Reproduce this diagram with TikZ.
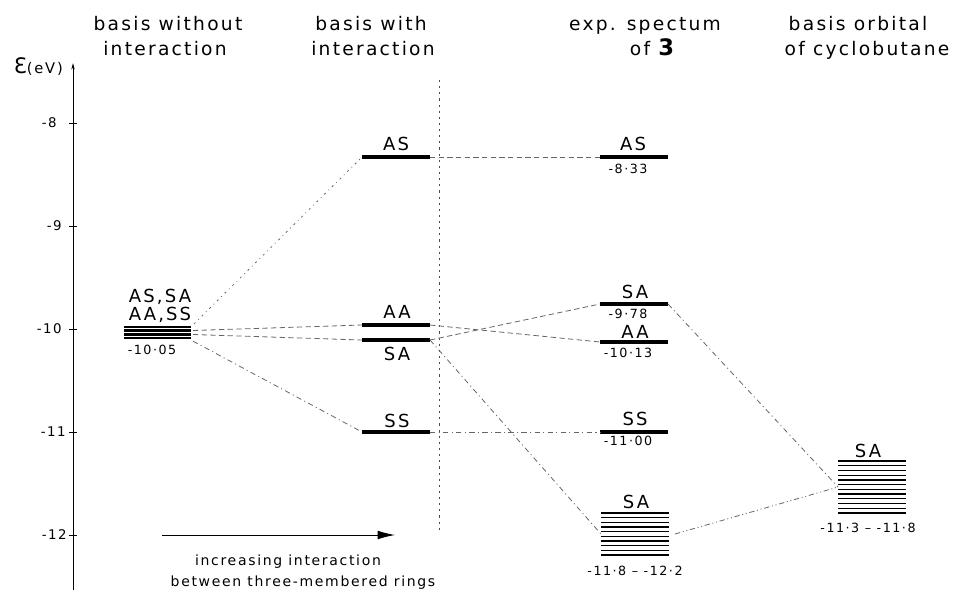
\documentclass[tikz,border=0pt]{standalone}
\usepackage{fontspec}
\setmainfont{DejaVu Sans}[LetterSpace=12]
\usetikzlibrary{arrows.meta,calc}

% horizontal rules filling a band node from top to bottom
\newcommand\bandlines[2]{%
  \foreach \k in {0,...,#2}{%
    \pgfmathsetmacro\f{\k/#2}%
    \pgfmathsetmacro\lw{(\k==0 || \k==#2) ? 1.8 : 1.0}%
    \draw[line width=\lw pt] ($(#1.north west)!\f!(#1.south west)$) -- ($(#1.north east)!\f!(#1.south east)$);
  }%
}

\tikzset{
  lvl/.style={fill=black, inner sep=0pt, outer sep=0pt, minimum width=51pt, minimum height=2.5pt},
  band/.style={inner sep=0pt, outer sep=0pt, minimum width=51pt},
  lab/.style={font=\fontsize{13.5}{15}\selectfont, anchor=base, inner sep=0pt},
  val/.style={font=\fontsize{9.5}{10}\selectfont, anchor=base, inner sep=0pt},
  hdr/.style={font=\fontsize{14}{16}\selectfont, anchor=base, inner sep=0pt},
  tick/.style={font=\fontsize{10}{11}\selectfont, anchor=east, inner sep=0pt},
  note/.style={font=\fontsize{10.5}{12}\selectfont, anchor=base, inner sep=0pt},
  link/.style={line width=0.6pt, black!60},
  dashlink/.style={link, dash pattern=on 4pt off 2.5pt},
  dotlink/.style={link, dash pattern=on 1.5pt off 3pt on 0.6pt off 3pt},
  dashdotlink/.style={link, dash pattern=on 4pt off 2.5pt on 0.8pt off 2.5pt},
  dashdotdotlink/.style={link, dash pattern=on 4pt off 2pt on 0.8pt off 2pt on 0.8pt off 2pt},
}

\begin{document}
\begin{tikzpicture}[x=0.75pt, y=-0.75pt]
\useasboundingbox (0,0) rectangle (956,590);

% column headings
\node[hdr] (hA1) at (168,30) {basis without};
\node[hdr] (hA2) at (165,55) {interaction};
\node[hdr] (hB1) at (371,30) {basis with};
\node[hdr] (hB2) at (373,55) {interaction};
\node[hdr] (hC1) at (645,30) {exp. spectum};
\node[hdr] (hC2) at (652,55) {of {\fontsize{17}{18}\selectfont\bfseries 3}};
\node[hdr] (hD1) at (858,30) {basis orbital};
\node[hdr] (hD2) at (867,55) {of cyclobutane};

% energy axis
\coordinate (axbot) at (73,590);
\coordinate (axtop) at (73,63);
\draw[line width=0.6pt, -{Stealth[length=5pt,width=2.5pt]}] (axbot) -- (axtop);
\node[anchor=base east, inner sep=0pt] (axlab) at (63,73)
  {{\fontsize{16}{17}\selectfont Ɛ}{\fontsize{11}{12}\selectfont(eV)}};
\foreach \e/\y/\xr in {8/123/57, 9/226/62, 10/329/62, 11/432/66, 12/535/67}{
  \draw[line width=0.6pt] (69,\y) -- (77,\y);
  \node[tick] (t\e) at (\xr,\y) {-\e};
}

% basis without interaction: four degenerate levels
\node[band, minimum width=50.25pt, minimum height=8.5pt] (L) at (157.5,332.5) {};
\foreach \f in {0,0.333,0.667,1}
  \draw[line width=1.8pt] ($(L.north west)!\f!(L.south west)$) -- ($(L.north east)!\f!(L.south east)$);
\node[lab] (Lt1) at (160,302) {AS,SA};
\node[lab] (Lt2) at (160,320) {AA,SS};
\node[val] (Lv) at (152,354) {-10·05};

% basis with interaction
\node[lvl] (mAS) at (396,157) {};
\node[lvl] (mAA) at (396,325) {};
\node[lvl] (mSA) at (396,340) {};
\node[lvl] (mSS) at (396,432) {};
\node[lab] (mASt) at (396,150) {AS};
\node[lab] (mAAt) at (397,318) {AA};
\node[lab] (mSAt) at (397,360) {SA};
\node[lab] (mSSt) at (397,427) {SS};

% separator
\coordinate (vtop) at (439,80);
\coordinate (vbot) at (439,530);
\draw[line width=0.6pt, black!70, dash pattern=on 1.6pt off 3pt] (vtop) -- (vbot);

% experimental spectrum
\node[lvl] (eAS) at (634,157) {};
\node[lvl] (eSA) at (634,304) {};
\node[lvl] (eAA) at (634,342) {};
\node[lvl] (eSS) at (634,432) {};
\node[lab] (eASt) at (633,150) {AS};
\node[val] (eASv) at (628,173) {-8·33};
\node[lab] (eSAt) at (635,298) {SA};
\node[val] (eSAv) at (628,318) {-9·78};
\node[lab] (eAAt) at (635,338) {AA};
\node[val] (eAAv) at (628,357) {-10·13};
\node[lab] (eSSt) at (635,425) {SS};
\node[val] (eSSv) at (628,445) {-11·00};
\node[band, minimum height=31.5pt] (eB) at (635,534) {};
\bandlines{eB}{9}
\node[lab] (eBt) at (636,508) {SA};
\node[val] (eBv) at (635,575) {-11·8 – -12·2};

% cyclobutane basis orbital
\node[band, minimum height=39pt] (cB) at (872,487) {};
\bandlines{cB}{11}
\node[lab] (cBt) at (868,457) {SA};
\node[val] (cBv) at (868,532) {-11·3 – -11·8};

% correlation lines
\draw[dotlink] ($(L.north east)+(3,-3)$) -- (mAS.west);
\draw[dashlink] ($(L.east)+(2,-2)$) -- (mAA.west);
\draw[dashlink] ($(L.east)+(2,2)$) -- (mSA.west);
\draw[dashdotlink] ($(L.south east)+(2,3)$) -- (mSS.west);
\draw[dashlink] (mAS.east) -- (eAS.west);
\draw[dashlink] (mAA.east) -- (eAA.west);
\draw[dashlink] (mSA.east) -- (eSA.west);
\draw[dashdotlink] (mSA.east) -- (eB.west);
\draw[dashdotlink] (mSS.east) -- (eSS.west);
\draw[dashdotlink] (eSA.east) -- (cB.west);
\draw[dashdotdotlink] ($(eB.east)+(6,0)$) -- (cB.west);

% interaction arrow
\coordinate (arrA) at (162,535);
\coordinate (arrB) at (395,535);
\draw[line width=0.7pt, -{Latex[length=13pt,width=6.5pt]}] (arrA) -- (arrB);
\node[note] (n1) at (288,565) {increasing interaction};
\node[note] (n2) at (303,586) {between three-membered rings};
\end{tikzpicture}
\end{document}
